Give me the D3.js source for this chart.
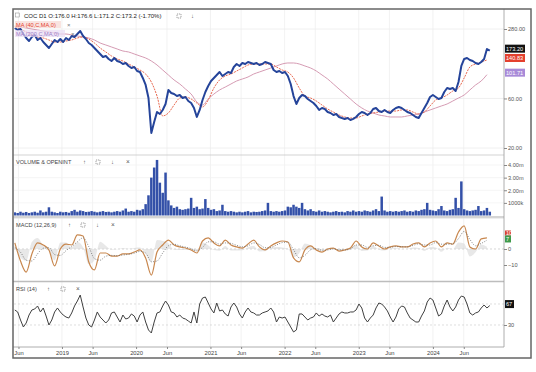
<!DOCTYPE html>
<html>
<head>
<meta charset="utf-8">
<script src="https://cdn.jsdelivr.net/npm/d3@7"></script>
<style>
  body { margin: 0; background: #fff; }
  svg { display: block; font-family: "Liberation Sans", Arial, sans-serif; }
</style>
</head>
<body>
<div id="chart"></div>
<script>
// ---- data ----
const seriesStart = "2018-05-14";
const stepDays = 14;     // close, volume, rsi
const maStepDays = 28;   // moving averages, macd

const closePrice = [
  286.3, 273.9, 280.0, 250.6, 229.4, 214.6, 234.5, 245.1, 219.4, 229.4,
  209.9, 196.4, 183.8, 200.8, 219.4, 209.9, 224.3, 209.9, 229.4, 219.4,
  239.8, 234.5, 250.6, 267.9, 239.8, 224.3, 205.3, 196.4, 183.8, 171.9,
  160.9, 150.5, 153.9, 144.0, 137.7, 147.2, 137.7, 134.7, 128.9, 131.8,
  123.3, 117.9, 120.6, 110.3, 107.9, 94.5, 80.9, 60.6, 27.9, 35.6,
  44.4, 42.5, 46.5, 53.1, 72.4, 67.7, 66.2, 63.3, 64.8, 60.6,
  62.0, 56.7, 54.2, 48.6, 39.8, 46.5, 58.0, 69.2, 79.1, 88.4,
  94.5, 101.0, 107.9, 98.7, 103.2, 107.9, 105.5, 120.6, 128.9, 123.3,
  131.8, 128.9, 134.7, 131.8, 128.9, 131.8, 126.0, 128.9, 134.7, 131.8,
  128.9, 112.8, 107.9, 110.3, 105.5, 107.9, 98.7, 82.7, 63.3, 53.1,
  60.6, 64.8, 63.3, 59.3, 56.7, 54.2, 50.8, 46.5, 48.6, 47.5,
  44.4, 43.5, 41.6, 42.5, 39.8, 38.9, 38.1, 38.9, 37.2, 38.1,
  39.8, 42.5, 44.4, 43.5, 41.6, 43.5, 47.5, 48.6, 45.4, 44.4,
  46.5, 44.4, 43.5, 46.5, 48.6, 49.7, 48.6, 46.5, 44.4, 43.5,
  41.6, 39.8, 38.9, 43.5, 48.6, 54.2, 62.0, 64.8, 62.0, 59.3,
  60.6, 69.2, 75.7, 74.0, 75.7, 70.8, 86.4, 123.3, 144.0, 147.2,
  140.8, 137.7, 131.8, 128.9, 134.7, 144.0, 179.7, 173.2
];

const ma40 = [
  292.7, 280.0, 262.0, 245.1, 234.5, 229.4, 219.4, 209.9, 209.9, 214.6,
  219.4, 229.4, 234.5, 224.3, 205.3, 183.8, 168.2, 153.9, 144.0, 137.7,
  128.9, 120.6, 112.8, 103.2, 86.4, 63.3, 40.7, 43.5, 51.9, 60.6,
  62.0, 59.3, 54.2, 49.7, 58.0, 75.7, 90.4, 98.7, 103.2, 110.3,
  117.9, 126.0, 128.9, 128.9, 128.9, 128.9, 120.6, 112.8, 107.9, 94.5,
  75.7, 63.3, 60.6, 56.7, 51.9, 47.5, 44.4, 41.6, 39.8, 38.9,
  38.9, 40.7, 42.5, 43.5, 44.4, 45.4, 45.4, 45.4, 46.5, 46.5,
  44.4, 42.5, 44.4, 50.8, 58.0, 60.6, 64.8, 70.8, 75.7, 94.5,
  120.6, 128.9, 134.7, 140.83
];

const ma200 = [
  299.2, 292.7, 286.3, 280.0, 273.9, 267.9, 262.0, 256.2, 250.6, 250.6,
  245.1, 239.8, 234.5, 229.4, 219.4, 205.3, 196.4, 187.9, 179.7, 171.9,
  168.2, 160.9, 153.9, 147.2, 137.7, 126.0, 112.8, 101.0, 90.4, 82.7,
  74.0, 66.2, 55.5, 51.9, 59.3, 66.2, 72.4, 77.3, 82.7, 88.4,
  92.4, 96.6, 103.2, 107.9, 112.8, 117.9, 123.3, 128.9, 131.8, 131.8,
  128.9, 123.3, 117.9, 110.3, 101.0, 92.4, 82.7, 74.0, 66.2, 59.3,
  53.1, 48.6, 45.4, 43.5, 41.6, 40.7, 39.8, 39.8, 39.8, 40.7,
  41.6, 42.5, 44.4, 46.5, 48.6, 50.8, 53.1, 56.7, 60.6, 64.8,
  72.4, 80.9, 88.4, 101.71
];

// volume in millions
const volume = [
  0.25, 0.2, 0.3, 0.22, 0.28, 0.2, 0.25, 0.3, 0.22, 0.4,
  0.25, 0.3, 0.65, 0.3, 0.25, 0.2, 0.3, 0.25, 0.28, 0.22,
  0.35, 0.45, 0.3, 0.4, 0.35, 0.28, 0.3, 0.35, 0.3, 0.25,
  0.3, 0.35, 0.28, 0.3, 0.25, 0.3, 0.35, 0.3, 0.4, 0.55,
  0.3, 0.35, 0.3, 0.45, 0.4, 0.5, 0.9, 1.6, 3.0, 3.8,
  4.4, 2.6, 1.8, 3.4, 1.2, 0.8, 0.6, 0.7, 0.5, 0.45,
  0.5, 0.55, 1.4, 0.6, 0.7, 0.5, 0.55, 1.3, 0.6, 0.45,
  0.5, 0.35, 0.4, 0.85, 0.35, 0.3, 0.35, 0.3, 0.25, 0.3,
  0.25, 0.3, 0.35, 0.25, 0.3, 0.28, 0.3, 0.35, 0.4, 1.0,
  0.35, 0.3, 0.35, 0.3, 0.35, 0.4, 0.7, 0.65, 0.85, 0.7,
  0.6, 1.0, 0.5, 0.4, 0.5, 0.35, 0.3, 0.4, 0.3, 0.35,
  0.3, 0.25, 0.3, 0.35, 0.28, 0.3, 0.25, 0.35, 0.3, 0.4,
  0.3, 0.35, 0.3, 0.4, 0.35, 0.3, 0.4, 0.5, 0.35, 1.5,
  0.4, 0.3, 0.35, 0.3, 0.35, 0.3, 0.35, 0.4, 0.3, 0.35,
  0.3, 0.4, 0.35, 0.45, 0.5, 1.0, 0.45, 0.4, 0.35, 0.5,
  0.75, 0.4, 0.35, 0.45, 0.5, 1.4, 0.6, 2.7, 0.5, 0.4,
  0.35, 0.4, 0.45, 0.75, 0.35, 0.4, 0.6, 0.3
];

const macdLine = [
  3.8, -7.5, -14.4, -3.1, 3.8, 2.5, -0.6, -10.6, 0, 3.1,
  2.5, 8.8, 8.1, -8.1, -13.1, -2.5, -2.5, -4.4, -4.4, -3.1,
  -3.1, -1.9, -0.6, -5.6, -16.3, -1.9, 2.5, 5.6, 2.5, 1.3,
  0.6, -0.6, -2.5, 5.0, 6.9, 3.8, 1.9, 5.6, 2.5, 1.3,
  0.6, 3.1, 5.6, 1.3, -0.6, 1.9, 3.8, 5.0, 4.4, -5.6,
  -8.1, -0.6, 1.9, -0.6, -1.9, 0, 0.6, -1.3, -0.6, 0.6,
  5.0, 1.3, 0, 3.8, 1.9, 0, 1.3, 1.9, 1.3, 1.3,
  3.1, 3.8, 1.3, 3.8, 5.0, 1.3, 3.8, 3.1, 10.6, 14.4,
  1.3, 0, 6.3, 6.9
];

const signalLine = [
  1.0, -2.0, -7.0, -7.5, -3.0, 0.5, 0.8, -3.5, -4.0, -1.0,
  1.5, 4.5, 7.0, 1.5, -6.0, -7.0, -4.5, -4.0, -4.2, -3.8,
  -3.3, -2.6, -1.5, -2.5, -8.0, -7.5, -2.5, 2.0, 3.0, 2.0,
  1.2, 0.2, -1.2, 1.0, 4.5, 4.5, 3.0, 3.8, 3.5, 2.3,
  1.4, 2.0, 3.8, 2.8, 0.8, 1.0, 2.5, 4.0, 4.3, -0.5,
  -5.5, -4.0, -0.5, 0.3, -0.8, -0.6, 0.0, -0.5, -0.6, 0.0,
  2.5, 2.5, 1.0, 2.0, 2.3, 1.0, 1.0, 1.5, 1.4, 1.3,
  2.2, 3.2, 2.5, 2.5, 4.0, 3.0, 3.0, 3.2, 6.5, 11.0,
  6.0, 2.0, 3.5, 5.5
];

const rsi = [
  58.6, 54.8, 39.5, 26.2, 33.8, 49.0, 58.6, 60.5, 66.2, 54.8,
  62.4, 47.1, 30.0, 39.5, 54.8, 62.4, 54.8, 49.0, 45.2, 43.3,
  52.9, 66.2, 75.7, 87.1, 64.3, 43.3, 30.0, 26.2, 39.5, 54.8,
  45.2, 39.5, 33.8, 39.5, 52.9, 54.8, 45.2, 35.7, 49.0, 41.4,
  43.3, 51.0, 47.1, 35.7, 49.0, 54.8, 35.7, 20.5, 14.8, 35.7,
  52.9, 54.8, 66.2, 75.7, 68.1, 54.8, 52.9, 45.2, 49.0, 43.3,
  41.4, 37.6, 33.8, 54.8, 33.8, 70.0, 81.4, 83.3, 71.9, 60.5,
  52.9, 71.9, 56.7, 58.6, 51.0, 47.1, 64.3, 71.9, 64.3, 51.0,
  43.3, 54.8, 62.4, 54.8, 52.9, 49.0, 49.0, 52.9, 54.8, 56.7,
  62.4, 54.8, 35.7, 45.2, 43.3, 45.2, 35.7, 26.2, 16.7, 20.5,
  51.0, 51.0, 45.2, 39.5, 43.3, 45.2, 52.9, 47.1, 51.0, 47.1,
  45.2, 49.0, 35.7, 43.3, 51.0, 54.8, 52.9, 52.9, 54.8, 54.8,
  58.6, 70.0, 62.4, 43.3, 35.7, 43.3, 49.0, 62.4, 71.9, 70.0,
  64.3, 56.7, 45.2, 35.7, 45.2, 60.5, 66.2, 64.3, 52.9, 43.3,
  39.5, 35.7, 35.7, 47.1, 56.7, 73.8, 81.4, 77.6, 62.4, 47.1,
  51.0, 66.2, 77.6, 64.3, 56.7, 64.3, 77.6, 85.2, 83.3, 70.0,
  52.9, 49.0, 52.9, 54.8, 62.4, 68.1, 62.4, 67.0
];

const timeTickDates = ["2018-06-01", "2019-01-01", "2019-06-01", "2020-01-01", "2020-06-01",
  "2021-01-01", "2021-06-01", "2022-01-01", "2022-06-01", "2023-01-01", "2023-06-01",
  "2024-01-01", "2024-06-01"];
const timeTickLabels = ["Jun", "2019", "Jun", "2020", "Jun", "2021", "Jun", "2022", "Jun",
  "2023", "Jun", "2024", "Jun"];
const priceTicks = [20, 60, 280];
const volumeTicks = [1, 2, 3, 4];
const volumeTickLabels = ["1000k", "2.00m", "3.00m", "4.00m"];
const macdTicks = [0, -10];
const rsiTicks = [30];
const rsiLevels = [70, 30];

const headerText = "COC D1 O:176.0 H:176.6 L:171.2 C:173.2 (-1.70%)";

// ---- layout ----
const W = 536, H = 372;
const left = 14, right = 504;
const panels = {
  price:  {top: 10,  bottom: 155},
  volume: {top: 155, bottom: 217},
  macd:   {top: 217, bottom: 282},
  rsi:    {top: 282, bottom: 347}
};

const svg = d3.select("#chart").append("svg").attr("width", W).attr("height", H);

const parse = d3.timeParse("%Y-%m-%d");
const start = parse(seriesStart);
const dateAt = (i, step) => d3.timeDay.offset(start, i * step);

// scales
const x = d3.scaleTime().domain([parse("2018-05-10"), parse("2024-12-16")]).range([left, right]);
const yPrice = d3.scaleLog().domain([20, 280]).range([148, 29]);
const yVol = d3.scaleLinear().domain([0, 4]).range([215.5, 165]);
const yMacd = d3.scaleLinear().domain([-10, 0]).range([265, 249]);
const yRsi = d3.scaleLinear().domain([30, 70]).range([325, 304]);

// clip paths
const defs = svg.append("defs");
Object.entries(panels).forEach(([k, p]) => {
  defs.append("clipPath").attr("id", "clip-" + k)
    .append("rect").attr("x", left).attr("y", p.top).attr("width", right - left).attr("height", p.bottom - p.top);
});

// vertical grid
const tickDates = timeTickDates.map(parse);
svg.append("g").selectAll("line").data(tickDates).join("line")
  .attr("x1", d => x(d)).attr("x2", d => x(d))
  .attr("y1", 10).attr("y2", 347)
  .attr("stroke", "#efefef").attr("stroke-width", 0.8);

// horizontal grids
svg.append("g").selectAll("line").data(priceTicks).join("line")
  .attr("x1", left).attr("x2", right).attr("y1", d => yPrice(d)).attr("y2", d => yPrice(d))
  .attr("stroke", "#ececec").attr("stroke-width", 0.8);
svg.append("g").selectAll("line").data(volumeTicks).join("line")
  .attr("x1", left).attr("x2", right).attr("y1", d => yVol(d)).attr("y2", d => yVol(d))
  .attr("stroke", "#f2f2f2").attr("stroke-width", 0.8);
svg.append("line").attr("x1", left).attr("x2", right).attr("y1", yMacd(0)).attr("y2", yMacd(0))
  .attr("stroke", "#c4c4c4").attr("stroke-width", 0.7).attr("stroke-dasharray", "2,2");
svg.append("g").selectAll("line").data(rsiLevels).join("line")
  .attr("x1", left).attr("x2", right).attr("y1", d => yRsi(d)).attr("y2", d => yRsi(d))
  .attr("stroke", "#d0d0d0").attr("stroke-width", 0.7).attr("stroke-dasharray", "2,2");

// ---- price panel ----
const gPrice = svg.append("g").attr("clip-path", "url(#clip-price)");
gPrice.append("path").datum(ma200)
  .attr("fill", "none").attr("stroke", "#d090aa").attr("stroke-width", 0.9)
  .attr("d", d3.line().x((d, i) => x(dateAt(i, maStepDays))).y(d => yPrice(d)).curve(d3.curveMonotoneX));
gPrice.append("path").datum(ma40)
  .attr("fill", "none").attr("stroke", "#e4593e").attr("stroke-width", 0.9).attr("stroke-dasharray", "2,1")
  .attr("d", d3.line().x((d, i) => x(dateAt(i, maStepDays))).y(d => yPrice(d)).curve(d3.curveMonotoneX));
gPrice.append("path").datum(closePrice)
  .attr("fill", "none").attr("stroke", "#25449a").attr("stroke-width", 2).attr("stroke-linejoin", "round")
  .attr("d", d3.line().x((d, i) => x(dateAt(i, stepDays))).y(d => yPrice(d)));

// ---- volume panel ----
svg.append("g").attr("clip-path", "url(#clip-volume)")
  .selectAll("rect").data(volume).join("rect")
  .attr("x", (d, i) => x(dateAt(i, stepDays)) - 1.25)
  .attr("width", 2.5)
  .attr("y", d => yVol(d))
  .attr("height", d => yVol(0) - yVol(d))
  .attr("fill", "#3350a8");
svg.append("rect").attr("x", left).attr("y", 216).attr("width", right - left).attr("height", 2.5).attr("fill", "#dedede");

// ---- macd panel ----
const gMacd = svg.append("g").attr("clip-path", "url(#clip-macd)");
gMacd.append("path").datum(macdLine)
  .attr("fill", "#d8d8d8").attr("opacity", 0.6)
  .attr("d", d3.area().x((d, i) => x(dateAt(i, maStepDays))).y0(yMacd(0)).y1((d, i) => yMacd(d - signalLine[i])).curve(d3.curveMonotoneX));
gMacd.append("path").datum(macdLine)
  .attr("fill", "none").attr("stroke", "#c8874e").attr("stroke-width", 1.2)
  .attr("d", d3.line().x((d, i) => x(dateAt(i, maStepDays))).y(d => yMacd(d)).curve(d3.curveMonotoneX));
gMacd.append("path").datum(signalLine)
  .attr("fill", "none").attr("stroke", "#666").attr("stroke-width", 0.8).attr("stroke-dasharray", "1,1.5")
  .attr("d", d3.line().x((d, i) => x(dateAt(i, maStepDays))).y(d => yMacd(d)).curve(d3.curveMonotoneX));

// ---- rsi panel ----
svg.append("g").attr("clip-path", "url(#clip-rsi)")
  .append("path").datum(rsi)
  .attr("fill", "none").attr("stroke", "#404040").attr("stroke-width", 1).attr("stroke-linejoin", "round")
  .attr("d", d3.line().x((d, i) => x(dateAt(i, stepDays))).y(d => yRsi(d)));

// ---- panel separators, frame ----
[155, 217].forEach(y => svg.append("line").attr("x1", 13).attr("x2", right).attr("y1", y).attr("y2", y)
  .attr("stroke", "#c8c8c8").attr("stroke-width", 0.8));
svg.append("line").attr("x1", 13).attr("x2", right).attr("y1", 281.5).attr("y2", 281.5)
  .attr("stroke", "#bdbdbd").attr("stroke-width", 1.5);
svg.append("line").attr("x1", right).attr("x2", right).attr("y1", 9).attr("y2", 347)
  .attr("stroke", "#9a9a9a").attr("stroke-width", 0.8);
svg.append("line").attr("x1", 13).attr("x2", right).attr("y1", 347).attr("y2", 347)
  .attr("stroke", "#9a9a9a").attr("stroke-width", 0.8);
svg.append("rect").attr("x", 13).attr("y", 9).attr("width", 518).attr("height", 349)
  .attr("fill", "none").attr("stroke", "#666").attr("stroke-width", 1.5);

// ---- axes ----
function styleAxis(g) {
  g.select(".domain").remove();
  g.selectAll("line").attr("stroke", "#888");
  g.selectAll("text").attr("fill", "#555").attr("font-size", "5.6px");
}
svg.append("g").attr("transform", `translate(${right},0)`)
  .call(d3.axisRight(yPrice).tickValues(priceTicks).tickFormat(d3.format(".2f")).tickSize(3).tickPadding(1))
  .call(styleAxis);
svg.append("g").attr("transform", `translate(${right},0)`)
  .call(d3.axisRight(yVol).tickValues(volumeTicks).tickFormat((d, i) => volumeTickLabels[i]).tickSize(3).tickPadding(1))
  .call(styleAxis);
svg.append("g").attr("transform", `translate(${right},0)`)
  .call(d3.axisRight(yMacd).tickValues(macdTicks).tickFormat(d3.format("d")).tickSize(3).tickPadding(1))
  .call(styleAxis);
svg.append("g").attr("transform", `translate(${right},0)`)
  .call(d3.axisRight(yRsi).tickValues(rsiTicks).tickFormat(d3.format("d")).tickSize(3).tickPadding(1))
  .call(styleAxis);
svg.append("g").attr("transform", "translate(0,347)")
  .call(d3.axisBottom(x).tickValues(tickDates).tickFormat((d, i) => timeTickLabels[i]).tickSize(2).tickPadding(2))
  .call(styleAxis)
  .selectAll("text").attr("font-size", "5.8px").attr("fill", "#444");

// value boxes on the right axis
function valueBox(y, label, fill, w, h) {
  const g = svg.append("g");
  g.append("rect").attr("x", right + 1).attr("y", y - h / 2).attr("width", w).attr("height", h).attr("fill", fill);
  g.append("text").attr("x", right + 2).attr("y", y).attr("dy", "0.35em")
    .attr("font-size", "5.6px").attr("fill", "#fff").text(label);
}
valueBox(yPrice(closePrice[closePrice.length - 1]) - 2, d3.format(".2f")(closePrice[closePrice.length - 1]), "#111", 20, 8);
valueBox(yPrice(ma40[ma40.length - 1]) - 2, d3.format(".2f")(ma40[ma40.length - 1]), "#e4402e", 20, 8);
valueBox(yPrice(ma200[ma200.length - 1]) - 2, d3.format(".2f")(ma200[ma200.length - 1]), "#a88ad8", 20, 8);
valueBox(yMacd(10), "10", "#d9432f", 6, 5);
valueBox(yMacd(macdLine[macdLine.length - 1]) + 1, d3.format("d")(macdLine[macdLine.length - 1]), "#3f9a4a", 6, 7);
valueBox(yRsi(rsi[rsi.length - 1]) - 1.5, d3.format("d")(rsi[rsi.length - 1]), "#111", 9, 8);

// ---- titles and legends ----
const label = (xp, yp, txt, color, size) => svg.append("text").attr("x", xp).attr("y", yp)
  .attr("font-size", (size || 5.8) + "px").attr("fill", color || "#333").text(txt);
function iconBox(xp, yp) {
  svg.append("rect").attr("x", xp).attr("y", yp - 4).attr("width", 4).attr("height", 4)
    .attr("fill", "none").attr("stroke", "#666").attr("stroke-width", 0.6).attr("stroke-dasharray", "1.2,0.8");
}

svg.append("rect").attr("x", 15.5).attr("y", 13).attr("width", 4).attr("height", 4)
  .attr("fill", "none").attr("stroke", "#888").attr("stroke-width", 0.5);
label(24, 18, headerText, "#222", 6);
iconBox(177, 18);
label(191, 18, "↓", "#555", 6);

svg.append("rect").attr("x", 15).attr("y", 21).attr("width", 46).attr("height", 7).attr("fill", "#f7d9d3").attr("opacity", 0.7);
label(16, 26.5, "MA (40,C,MA,0)", "#e4402e", 5.6);
label(67, 26.5, "×", "#777", 6);
svg.append("rect").attr("x", 15).attr("y", 30).attr("width", 50).attr("height", 7).attr("fill", "#e9ddf3").attr("opacity", 0.7);
label(16, 35.5, "MA (200,C,MA,0)", "#9c7cc8", 5.6);
label(71, 35.5, "×", "#777", 6);

label(16, 164, "VOLUME & OPENINT", "#444", 5.6);
label(83, 164, "↑", "#555", 6);
iconBox(96, 164);
label(111, 164, "↓", "#555", 6);
label(126, 164, "×", "#555", 6.5);

label(16, 227, "MACD (12,26,9)", "#444", 5.6);
label(68, 227, "↑", "#555", 6);
iconBox(81, 227);
label(96, 227, "↓", "#555", 6);
label(111, 227, "×", "#555", 6.5);

label(16, 291, "RSI (14)", "#444", 5.6);
label(47, 291, "↑", "#555", 6);
iconBox(61, 291);
label(76, 291, "×", "#555", 6.5);
</script>
</body>
</html>
